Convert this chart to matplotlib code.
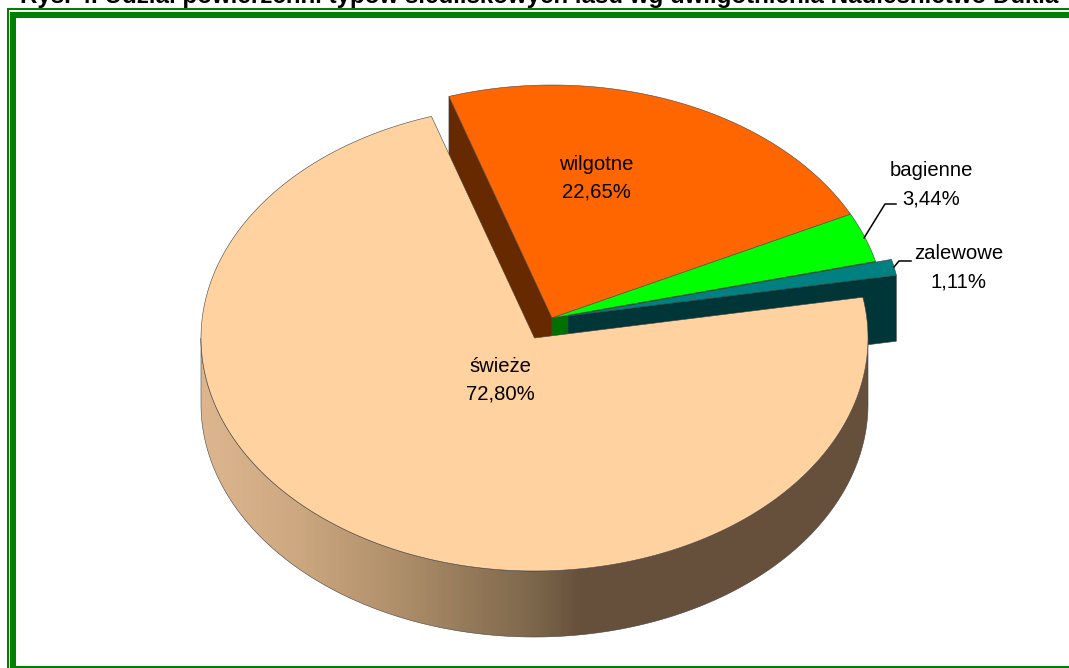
import numpy as np
import matplotlib
matplotlib.use('Agg')
import matplotlib.pyplot as plt
from matplotlib.colors import LinearSegmentedColormap
from matplotlib.patches import Polygon, Rectangle

# Chart data
categories = ['wilgotne', 'bagienne', 'zalewowe', 'świeże']
shares = [22.65, 3.44, 1.11, 72.80]
share_labels = ['22,65%', '3,44%', '1,11%', '72,80%']
title = 'Rys. 4. Udział powierzchni typów siedliskowych lasu wg uwilgotnienia Nadleśnictwo Dukla'

# Pie geometry in pixels
RX, RY, DEPTH = 333.5, 233, 66
START = 108
centers = {
    'wilgotne': (552, 318),
    'bagienne': (552, 318),
    'zalewowe': (568, 316),
    'świeże': (534.5, 338),
}
top_colors = {'wilgotne': '#FF6600', 'bagienne': '#00FF00', 'zalewowe': '#008080', 'świeże': '#FFD29F'}
side_colors = {'wilgotne': '#662900', 'bagienne': '#007000', 'zalewowe': '#003638'}
EDGE = '#444444'

plt.rcParams['font.family'] = ['Liberation Sans', 'DejaVu Sans']

fig = plt.figure(figsize=(10.69, 6.68), dpi=100)
ax = fig.add_axes([0, 0, 1, 1])
ax.set_xlim(0, 1069)
ax.set_ylim(668, 0)
ax.axis('off')

# Slice angles, going clockwise from the start angle
ends = START - np.cumsum(shares) * 3.6
starts = np.r_[START, ends[:-1]]
angles = {c: (a, b) for c, a, b in zip(categories, starts, ends)}


def rim(name, a, b, drop=0):
    t = np.radians(np.linspace(a, b, 300))
    cx, cy = centers[name]
    return np.c_[cx + RX * np.cos(t), cy - RY * np.sin(t) + drop]


def top_face(name, z):
    a, b = angles[name]
    pts = np.vstack([centers[name], rim(name, a, b)])
    ax.add_patch(Polygon(pts, closed=True, fc=top_colors[name], ec=EDGE, lw=0.4, zorder=z))


def cut_face(name, angle, z):
    cx, cy = centers[name]
    p = rim(name, angle, angle)[0]
    pts = [(cx, cy), p, (p[0], p[1] + DEPTH), (cx, cy + DEPTH)]
    ax.add_patch(Polygon(pts, closed=True, fc=side_colors[name], ec=EDGE, lw=0.4, zorder=z))


# Back pieces first, the big slice covers them
cut_face('wilgotne', angles['wilgotne'][0], 1)
cut_face('bagienne', angles['bagienne'][1], 1)
top_face('wilgotne', 2)
top_face('bagienne', 2)
cut_face('zalewowe', angles['zalewowe'][1], 3)
top_face('zalewowe', 4)

# Gradient wall of the big slice
wall = np.vstack([rim('świeże', 180, 360), rim('świeże', 360, 180, DEPTH)])
wall_patch = Polygon(wall, closed=True, fc='none', ec=EDGE, lw=0.4, zorder=6)
ax.add_patch(wall_patch)
wall_cmap = LinearSegmentedColormap.from_list('wall', [
    (0.0, '#DDB68E'), (0.14, '#CDA880'), (0.30, '#AE8E6A'),
    (0.50, '#7C664A'), (0.57, '#66503C'), (1.0, '#66503C'),
])
im = ax.imshow(np.linspace(0, 1, 400)[None, :], cmap=wall_cmap, aspect='auto', zorder=5,
               extent=(201, 868, 668, 0))
im.set_clip_path(wall_patch)
ax.set_xlim(0, 1069)
ax.set_ylim(668, 0)

top_face('świeże', 7)

# Labels
font = dict(fontsize=14.6, color='black', ha='center', va='center', linespacing=1.6, zorder=10)
ax.text(596.5, 178, 'wilgotne\n' + share_labels[0], **font)
ax.text(931, 185, 'bagienne\n' + share_labels[1], **font)
ax.text(959, 267.5, 'zalewowe\n' + share_labels[2], **font)
ax.text(500, 380.5, 'świeże\n' + share_labels[3], **font)

# Leader lines
ax.plot([864, 885, 896], [238, 204, 204], color='black', lw=1.1, zorder=9)
ax.plot([894, 899, 911], [267, 261, 261], color='black', lw=1.1, zorder=9)

# Double green frame, open at the right
green = '#008000'
for x, y, w, h in [(7, 8, 1062, 2), (7, 8, 2, 660), (10, 12, 1059, 6), (10, 12, 6, 656), (10, 666, 1059, 2)]:
    ax.add_patch(Rectangle((x, y), w, h, fc=green, ec='none', zorder=12))

# Title, cut by the top of the image
ax.text(20, 3, title, fontsize=17.4, fontweight='bold', color='black', ha='left', va='baseline', zorder=13)

fig.savefig('out.png', dpi=100)
